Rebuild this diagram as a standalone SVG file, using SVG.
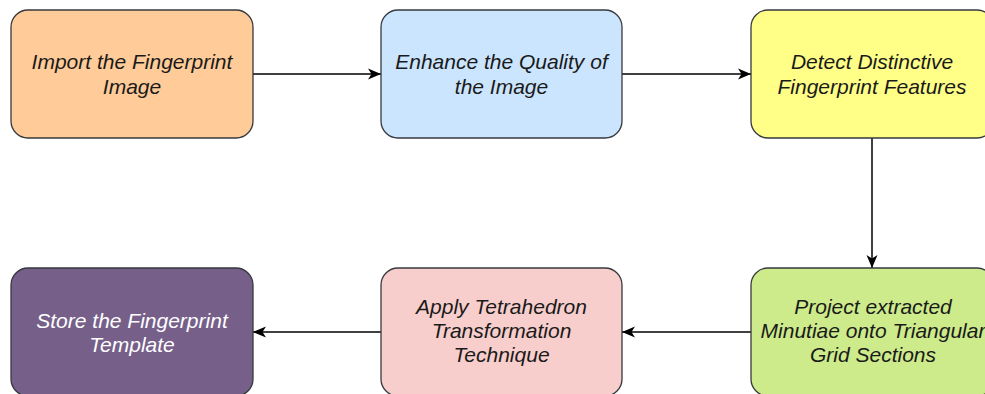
<svg xmlns="http://www.w3.org/2000/svg" width="985" height="394" viewBox="0 0 985 394">
  <style>
    .box { stroke: #36393d; stroke-width: 1.3; }
    .lbl { font-family: "Liberation Sans", Arial, sans-serif; font-size: 21px; font-style: italic; fill: #1a1a1a; text-anchor: middle; }
    .lbl.light { fill: #ffffff; }
    .edge { stroke: #000000; stroke-width: 1.5; fill: none; marker-end: url(#arrow); }
  </style>
  <defs>
    <marker id="arrow" markerUnits="userSpaceOnUse" markerWidth="14" markerHeight="12" viewBox="0 0 14 12" refX="13" refY="6" orient="auto">
      <path d="M0,0.5 L13,6 L0,11.5 L3.5,6 Z" fill="#000000"/>
    </marker>
  </defs>

  <rect width="985" height="394" fill="#ffffff"/>

  <!-- connectors -->
  <g id="connectors">
    <line class="edge" x1="253" y1="74" x2="381" y2="74"/>
    <line class="edge" x1="622" y1="74" x2="751" y2="74"/>
    <line class="edge" x1="872" y1="138" x2="872" y2="268"/>
    <line class="edge" x1="751" y1="332" x2="622" y2="332"/>
    <line class="edge" x1="381" y1="332" x2="253" y2="332"/>
  </g>

  <!-- top row -->
  <g id="import">
    <rect class="box" x="11" y="10" width="242" height="128" rx="17" fill="#ffcc99"/>
    <text class="lbl" x="132" y="69">Import the Fingerprint</text>
    <text class="lbl" x="132" y="94">Image</text>
  </g>
  <g id="enhance">
    <rect class="box" x="381" y="10" width="241" height="128" rx="17" fill="#cce5ff"/>
    <text class="lbl" x="501.5" y="69">Enhance the Quality of</text>
    <text class="lbl" x="501.5" y="94">the Image</text>
  </g>
  <g id="detect">
    <rect class="box" x="751" y="10" width="243" height="128" rx="17" fill="#ffff88"/>
    <text class="lbl" x="872" y="69">Detect Distinctive</text>
    <text class="lbl" x="872" y="94">Fingerprint Features</text>
  </g>

  <!-- bottom row -->
  <g id="project">
    <rect class="box" x="751" y="268" width="243" height="128" rx="17" fill="#cdeb8b"/>
    <text class="lbl" x="873" y="314">Project extracted</text>
    <text class="lbl" x="873" y="338">Minutiae onto Triangular</text>
    <text class="lbl" x="873" y="362">Grid Sections</text>
  </g>
  <g id="tetrahedron">
    <rect class="box" x="381" y="268" width="241" height="128" rx="17" fill="#f8cecc"/>
    <text class="lbl" x="501.5" y="314">Apply Tetrahedron</text>
    <text class="lbl" x="501.5" y="338">Transformation</text>
    <text class="lbl" x="501.5" y="362">Technique</text>
  </g>
  <g id="store">
    <rect class="box" x="11" y="268" width="242" height="128" rx="17" fill="#76608a"/>
    <text class="lbl light" x="132" y="328">Store the Fingerprint</text>
    <text class="lbl light" x="132" y="352">Template</text>
  </g>
</svg>
